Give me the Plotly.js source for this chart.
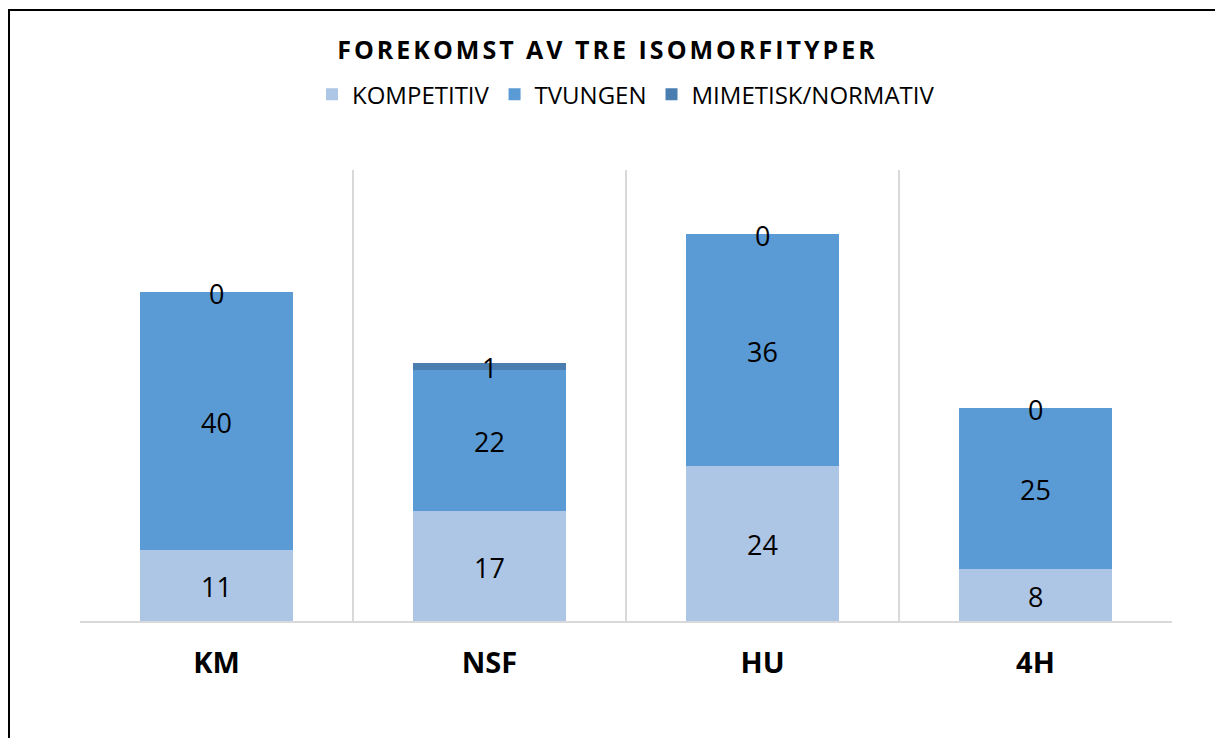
<!DOCTYPE html>
<html>
<head>
<meta charset="utf-8">
<script src="https://cdn.plot.ly/plotly-3.0.1.min.js"></script>
<style>
html,body{margin:0;padding:0;background:#fff;overflow:hidden;}
#chart{position:absolute;left:0;top:0;width:1215px;height:738px;}
#frame{position:absolute;left:8px;top:9px;width:1230px;height:760px;border:2px solid #000;pointer-events:none;}
#chart .gtitle{letter-spacing:3px;}
</style>
</head>
<body>
<div id="chart"></div>
<div id="frame"></div>
<script>
const categories = ["KM", "NSF", "HU", "4H"];
const kompetitiv = [11, 17, 24, 8];
const tvungen = [40, 22, 36, 25];
const mimetisk = [0, 1, 0, 0];
const seriesNames = ["KOMPETITIV", "TVUNGEN", "MIMETISK/NORMATIV"];
const colors = ["#aec6e6", "#5b9bd5", "#4a7eb0"];

const series = [kompetitiv, tvungen, mimetisk];
const traces = [];
series.forEach((vals, i) => {
  traces.push({
    type: "bar", x: categories, y: vals, name: seriesNames[i],
    marker: {color: colors[i], line: {width: 0}},
    hoverinfo: "x+y+name"
  });
});
// labels centered in each segment
const annotations = [];
const base = categories.map(() => 0);
series.forEach((vals, i) => {
  vals.forEach((v, j) => {
    annotations.push({
      x: categories[j], y: base[j] + v / 2, xref: "x", yref: "y",
      text: String(v), showarrow: false, yshift: -1,
      font: {family: "Open Sans, sans-serif", size: 27, color: "#000"}
    });
    base[j] += v;
  });
});

const layout = {
  width: 1215, height: 738,
  paper_bgcolor: "#fff", plot_bgcolor: "#fff",
  margin: {l: 80, r: 43, t: 170, b: 117},
  barmode: "stack", bargap: 0.443,
  title: {text: "<b>FOREKOMST AV TRE ISOMORFITYPER</b>", x: 0.5, xanchor: "center", y: 0.932, yanchor: "middle",
    font: {family: "Open Sans, sans-serif", size: 25, color: "#000"}},
  legend: {orientation: "h", x: 0.5, xanchor: "center", y: 1.167, yanchor: "middle",
    font: {family: "Open Sans, sans-serif", size: 24, color: "#000"}, traceorder: "normal",
    itemwidth: 30, itemsizing: "constant"},
  annotations: annotations,
  xaxis: {type: "category", tickson: "boundaries", showgrid: true, gridcolor: "#d9d9d9", gridwidth: 1.5,
    showline: true, linecolor: "#d9d9d9", linewidth: 1.5, ticks: "", ticklen: 0,
    tickfont: {family: "Open Sans, sans-serif", size: 29, color: "#000", weight: "bold"},
    ticklabelstandoff: 16, fixedrange: true},
  yaxis: {range: [0, 70], showgrid: false, showticklabels: false, zeroline: false, showline: false, fixedrange: true},
  showlegend: true
};
Plotly.newPlot("chart", traces, layout, {displayModeBar: false, staticPlot: true});
</script>
</body>
</html>
